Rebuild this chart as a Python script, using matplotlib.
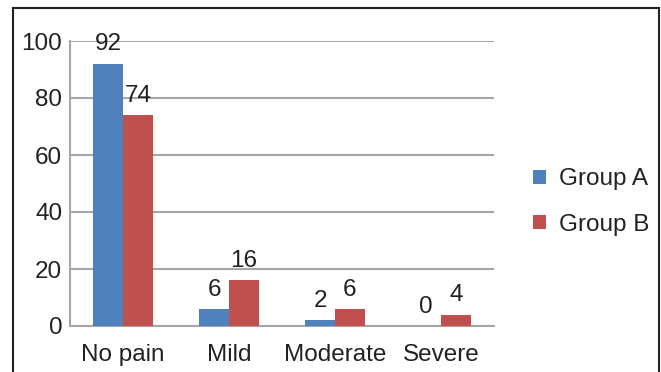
import numpy as np
import matplotlib
matplotlib.use("Agg")
import matplotlib.pyplot as plt
from matplotlib.lines import Line2D

categories = ["No pain", "Mild", "Moderate", "Severe"]
group_a = [92, 6, 2, 0]
group_b = [74, 16, 6, 4]
series_names = ["Group A", "Group B"]

BLUE = "#4F81BD"
RED = "#C0504D"
GRID = "#A6A6A6"
TEXT = "#222222"

plt.rcParams['font.family'] = ['Liberation Sans', 'DejaVu Sans']

fig = plt.figure(figsize=(6.61, 3.72), dpi=100)
ax = fig.add_axes([70 / 661, 1 - 326 / 372, 424 / 661, 285 / 372])

x = np.arange(len(categories))
w = 0.283
bars_a = ax.bar(x - w / 2, group_a, w, color=BLUE, label=series_names[0], zorder=3)
bars_b = ax.bar(x + w / 2, group_b, w, color=RED, label=series_names[1], zorder=3)

# value labels above each bar
for bars in (bars_a, bars_b):
    for b in bars:
        h = b.get_height()
        ax.annotate(str(int(h)), (b.get_x() + b.get_width() / 2, h),
                    xytext=(0, 6), textcoords="offset points",
                    ha="center", va="bottom", fontsize=17.5, color=TEXT)

ax.set_xlim(-0.5, len(categories) - 0.5)
ax.set_ylim(0, 100)
ax.set_yticks(range(0, 101, 20))
ax.set_xticks(x)
ax.set_xticklabels(categories)
ax.tick_params(axis="both", length=0, labelsize=17.5, labelcolor=TEXT)
ax.tick_params(axis="x", pad=13)
ax.tick_params(axis="y", pad=5.5)
ax.yaxis.grid(True, color=GRID, linewidth=1.5, zorder=0)

for side in ("top", "right"):
    ax.spines[side].set_visible(False)
for side in ("left", "bottom"):
    ax.spines[side].set_color(GRID)
    ax.spines[side].set_linewidth(1.5)

leg = fig.legend(handles=[bars_a, bars_b], labels=series_names,
                 loc="center left", bbox_to_anchor=(533 / 661, 1 - 202 / 372),
                 frameon=False, fontsize=17.5, borderpad=0, borderaxespad=0,
                 handlelength=0.55, handleheight=0.55,
                 handletextpad=0.5, labelspacing=0.95)
for t in leg.get_texts():
    t.set_color(TEXT)

# outer frame
frame_kw = dict(color="#222222", linewidth=1.5, transform=fig.transFigure)
L, R, T = 13 / 661, 659 / 661, 1 - 8 / 372
fig.add_artist(Line2D([L, L], [0, T], **frame_kw))
fig.add_artist(Line2D([L, R], [T, T], **frame_kw))
fig.add_artist(Line2D([R, R], [0, T], **frame_kw))

fig.savefig("out.png", dpi=100)
